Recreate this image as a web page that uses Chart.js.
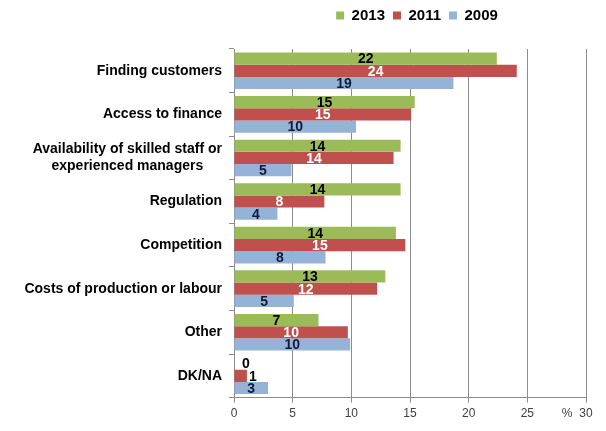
<!DOCTYPE html>
<html>
<head>
<meta charset="utf-8">
<script src="https://cdn.jsdelivr.net/npm/chart.js@4"></script>
<style>
  html, body { margin: 0; padding: 0; background: #fff; }
  #wrap { width: 606px; height: 431px; position: relative; }
</style>
</head>
<body>
<div id="wrap"><canvas id="c" width="606" height="431"></canvas></div>
<script>
const categories = [
  'Finding customers',
  'Access to finance',
  ['Availability of skilled staff or', 'experienced managers'],
  'Regulation',
  'Competition',
  'Costs of production or labour',
  'Other',
  'DK/NA'
];
const seriesNames = ['2013', '2011', '2009'];
const values2013 = [22.4, 15.4, 14.2, 14.2, 13.8, 12.9, 7.2, 0.0];
const values2011 = [24.1, 15.1, 13.6, 7.7, 14.6, 12.2, 9.7, 1.1];
const values2009 = [18.7, 10.4, 4.9, 3.7, 7.8, 5.1, 9.9, 2.9];
const labels2013 = [22, 15, 14, 14, 14, 13, 7, 0];
const labels2011 = [24, 15, 14, 8, 15, 12, 10, 1];
const labels2009 = [19, 10, 5, 4, 8, 5, 10, 3];
const xTicks = [0, 5, 10, 15, 20, 25, 30];

const colors = ['#9BBB59', '#C0504D', '#95B3D7'];
const labelColors = ['#000000', '#FFFFFF', '#0F1B3A'];
const allLabels = [labels2013, labels2011, labels2009];
const FONT = "'Liberation Sans', Arial, sans-serif";

const legendSpacer = {
  id: 'legendSpacer',
  beforeInit(chart) {
    const origFit = chart.legend.fit;
    chart.legend.fit = function () {
      origFit.bind(this)();
      this.height += 16;
    };
    const origDraw = chart.legend.draw;
    chart.legend.draw = function () {
      const ctx = this.ctx;
      ctx.save();
      ctx.translate(7, 0);
      origDraw.apply(this, arguments);
      ctx.restore();
    };
  }
};

const dataLabelPlugin = {
  id: 'dataLabels',
  afterDatasetsDraw(chart) {
    const ctx = chart.ctx;
    const left = chart.chartArea.left;
    ctx.save();
    ctx.font = 'bold 14px ' + FONT;
    ctx.textAlign = 'center';
    ctx.textBaseline = 'middle';
    chart.data.datasets.forEach((ds, di) => {
      const meta = chart.getDatasetMeta(di);
      meta.data.forEach((bar, i) => {
        const txt = String(allLabels[di][i]);
        const w = ctx.measureText(txt).width;
        const barW = bar.x - bar.base;
        let x;
        let color = labelColors[di];
        if (barW < w + 6) {
          x = Math.max(left + 12, bar.x + w / 2 + 2);
          color = '#000000';
        } else {
          x = (bar.x + bar.base) / 2;
        }
        ctx.fillStyle = color;
        ctx.fillText(txt, x, bar.y + 1);
      });
    });
    ctx.restore();
  }
};

const yLabelPlugin = {
  id: 'yLabels',
  afterDraw(chart) {
    const ctx = chart.ctx;
    const yScale = chart.scales.y;
    const rightEdge = chart.chartArea.left - 12;
    ctx.save();
    ctx.font = 'bold 14px ' + FONT;
    ctx.fillStyle = '#000';
    ctx.textBaseline = 'middle';
    categories.forEach((cat, i) => {
      const lines = Array.isArray(cat) ? cat : [cat];
      const widths = lines.map(l => ctx.measureText(l).width);
      const maxW = Math.max(...widths);
      const cx = rightEdge - maxW / 2;
      const yc = yScale.getPixelForValue(i);
      const lh = 17;
      lines.forEach((l, k) => {
        const y = yc + (k - (lines.length - 1) / 2) * lh;
        ctx.textAlign = 'center';
        ctx.fillText(l, cx, y);
      });
    });
    const xs = chart.scales.x;
    ctx.font = '12px ' + FONT;
    ctx.fillStyle = '#404040';
    ctx.textAlign = 'center';
    ctx.textBaseline = 'top';
    ctx.fillText('%', xs.getPixelForValue(30) - 19, xs.top + 10);
    ctx.restore();
  }
};

new Chart(document.getElementById('c'), {
  type: 'bar',
  data: {
    labels: categories,
    datasets: [
      { label: seriesNames[0], data: values2013, backgroundColor: colors[0] },
      { label: seriesNames[1], data: values2011, backgroundColor: colors[1] },
      { label: seriesNames[2], data: values2009, backgroundColor: colors[2] }
    ]
  },
  options: {
    indexAxis: 'y',
    responsive: false,
    animation: false,
    devicePixelRatio: 1,
    layout: { padding: { left: 0, right: 20, top: 0, bottom: 6 } },
    datasets: { bar: { categoryPercentage: 0.84, barPercentage: 1.0 } },
    plugins: {
      legend: {
        display: true,
        position: 'top',
        align: 'center',
        fullSize: false,
        labels: {
          font: { family: FONT, size: 15, weight: 'bold' },
          color: '#000',
          boxWidth: 8,
          boxHeight: 8,
          padding: 8
        }
      },
      tooltip: { enabled: false }
    },
    scales: {
      x: {
        min: 0,
        max: 30,
        afterBuildTicks(scale) { scale.ticks = xTicks.map(v => ({ value: v })); },
        ticks: {
          font: { family: FONT, size: 12 },
          color: '#404040',
          padding: 4,
          maxRotation: 0
        },
        grid: { color: '#8C8C8C', lineWidth: 1, tickLength: 5, drawTicks: true },
        border: { display: true, color: '#8C8C8C' }
      },
      y: {
        afterFit(scale) { scale.width = 234; },
        ticks: {
          font: { family: FONT, size: 14, weight: 'bold' },
          color: 'rgba(0,0,0,0)',
          padding: 7
        },
        grid: { offset: true, drawOnChartArea: false, color: '#8C8C8C', tickLength: 5 },
        border: { display: true, color: '#8C8C8C' }
      }
    }
  },
  plugins: [legendSpacer, dataLabelPlugin, yLabelPlugin]
});
</script>
</body>
</html>
